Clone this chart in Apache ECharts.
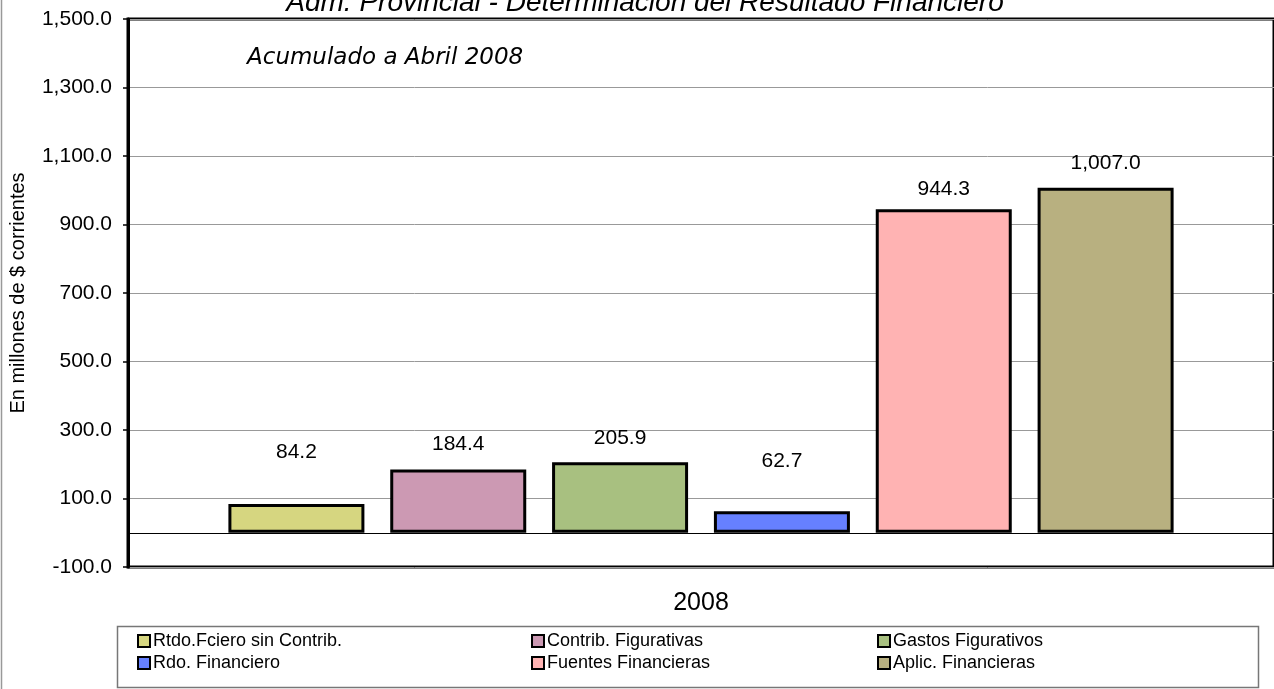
<!DOCTYPE html>
<html>
<head>
<meta charset="utf-8">
<script src="https://cdn.jsdelivr.net/npm/echarts@6/dist/echarts.min.js"></script>
<style>
  html, body { margin: 0; padding: 0; background: #fff; }
  #chart { width: 1274px; height: 689px; }
</style>
</head>
<body>
<div id="chart"></div>
<script>
// datos del gráfico
const categories = ['2008'];
const seriesNames = [
    'Rtdo.Fciero sin Contrib.',
    'Contrib. Figurativas',
    'Gastos Figurativos',
    'Rdo. Financiero',
    'Fuentes Financieras',
    'Aplic. Financieras'
];
const seriesValues = [84.2, 184.4, 205.9, 62.7, 944.3, 1007.0];
const seriesColors = ['#D6D680', '#CC99B3', '#A8C080', '#6680FF', '#FFB3B3', '#B8B080'];
// separación de la etiqueta sobre cada barra (px)
const labelGaps = [41, 15, 14, 40, 10, 14];

const titleText = 'Adm. Provincial - Determinación del Resultado Financiero';
const subtitleText = 'Acumulado a Abril 2008';
const yAxisName = 'En millones de $ corrientes';

const FONT = 'Liberation Sans, Arial, sans-serif';

function fmt(v) {
    return v.toLocaleString('en-US', { minimumFractionDigits: 1, maximumFractionDigits: 1 });
}

const chart = echarts.init(document.getElementById('chart'));

const series = seriesNames.map((name, i) => {
    const s = {
        name: name,
        type: 'bar',
        barWidth: 136,
        barGap: '19%',
        data: [seriesValues[i]],
        itemStyle: {
            color: seriesColors[i],
            borderColor: '#000',
            borderWidth: 3
        },
        label: {
            show: true,
            position: 'top',
            distance: labelGaps[i],
            color: '#000',
            fontFamily: FONT,
            fontSize: 21,
            formatter: p => fmt(p.value)
        }
    };
    if (i === 0) {
        // línea del cero
        s.markLine = {
            silent: true,
            symbol: ['none', 'none'],
            label: { show: false },
            lineStyle: { color: '#000', width: 1.2, type: 'solid' },
            data: [{ yAxis: 0 }]
        };
    }
    return s;
});

// leyenda en 3 columnas de 2 filas
const legendCols = [137, 531, 877];
const legends = legendCols.map((x, c) => ({
    left: x,
    top: 632,
    orient: 'vertical',
    padding: 0,
    itemGap: 4,
    itemWidth: 12,
    itemHeight: 12,
    icon: 'rect',
    selectedMode: false,
    itemStyle: { borderColor: '#000', borderWidth: 2 },
    textStyle: { fontFamily: FONT, fontSize: 18, color: '#000', padding: [0, 0, 0, -2] },
    data: [seriesNames[c], seriesNames[c + 3]]
}));

const option = {
    animation: false,
    backgroundColor: '#fff',
    grid: {
        left: 127,
        top: 19,
        width: 1152,
        height: 548,
        show: true,
        borderColor: '#000',
        borderWidth: 3
    },
    legend: legends,
    xAxis: {
        type: 'category',
        data: categories,
        axisLine: { show: false },
        axisTick: { show: false },
        axisLabel: { color: '#000', fontFamily: FONT, fontSize: 25, margin: 24 }
    },
    yAxis: {
        type: 'value',
        min: -100,
        max: 1500,
        interval: 200,
        name: yAxisName,
        nameLocation: 'middle',
        nameGap: 100,
        nameTextStyle: { color: '#000', fontFamily: FONT, fontSize: 20 },
        axisLine: { show: true, lineStyle: { color: '#000', width: 3 } },
        axisTick: { show: true, length: 5, lineStyle: { color: '#000', width: 1.5 } },
        axisLabel: { color: '#000', fontFamily: FONT, fontSize: 21, margin: 16, formatter: v => fmt(v) },
        splitLine: { show: true, lineStyle: { color: '#999', width: 1 } }
    },
    series: series,
    graphic: [
        {
            type: 'line',
            shape: { x1: 1.5, y1: 0, x2: 1.5, y2: 689 },
            style: { stroke: '#999', lineWidth: 1.5 },
            silent: true
        },
        {
            type: 'text',
            x: 645,
            y: 3,
            style: {
                text: titleText,
                fill: '#000',
                font: 'italic 28px ' + FONT,
                textAlign: 'center',
                textVerticalAlign: 'middle'
            }
        },
        {
            type: 'text',
            x: 247,
            y: 58,
            style: {
                text: subtitleText,
                fill: '#000',
                font: 'italic 23px DejaVu Sans, sans-serif',
                textAlign: 'left',
                textVerticalAlign: 'middle'
            }
        },
        {
            type: 'rect',
            shape: { x: 117.5, y: 626.5, width: 1141, height: 61 },
            style: { fill: 'none', stroke: '#777', lineWidth: 1.5 },
            silent: true
        }
    ]
};

chart.setOption(option);
</script>
</body>
</html>
